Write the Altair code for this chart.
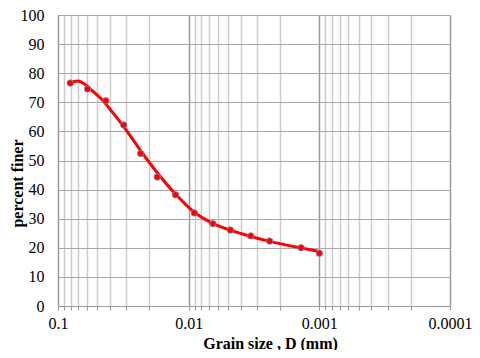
import altair as alt
import pandas as pd

# measured points
grain_size = [0.0806, 0.0594, 0.043, 0.0314, 0.0233, 0.0174, 0.0126, 0.00906,
              0.00652, 0.0048, 0.00335, 0.0024, 0.00138, 0.001]
pct_finer = [76.6, 74.6, 70.5, 62.2, 52.4, 44.3, 38.2, 32.0, 28.3, 26.1,
             24.1, 22.3, 20.0, 18.1]

# fitted smooth curve
curve_size = [0.0816, 0.0707, 0.0611, 0.0545, 0.0458, 0.0385, 0.0324, 0.0272,
              0.0229, 0.0187, 0.01247, 0.00906, 0.00648, 0.00467,
              0.00335, 0.0024, 0.00138, 0.001]
curve_pct = [76.5, 77.3, 75.9, 73.9, 70.8, 66.7, 62.4, 57.7, 52.9, 47.6,
             38.2, 32.2, 28.3, 25.9, 23.9, 22.2, 19.9, 18.7]

x_ticks = [m * d for d in [0.1, 0.01, 0.001] for m in [1, 0.9, 0.8, 0.7, 0.6, 0.5, 0.4, 0.3, 0.2]] + [0.0001]
y_ticks = list(range(0, 101, 10))

pts = pd.DataFrame({"D": grain_size, "P": pct_finer})
crv = pd.DataFrame({"D": curve_size, "P": curve_pct, "i": list(range(len(curve_size)))})

FONT = "Liberation Serif"
decade = "abs(log(datum.value)/LN10 - round(log(datum.value)/LN10)) < 0.000001"

xscale = alt.Scale(type="log", domain=[0.0001, 0.1], reverse=True, nice=False)
yscale = alt.Scale(domain=[0, 100], nice=False)

W = 392
xaxis = alt.Axis(
    values=x_ticks, labelExpr=f"({decade}) ? toString(datum.value) : ''",
    title="Grain size , D (mm)", grid=True,
    gridColor={"condition": {"test": decade, "value": "#9a9a9a"}, "value": "#cccccc"},
    gridWidth=1.5, tickColor="#9a9a9a", tickSize=4, domainColor="#9a9a9a",
    labelFont=FONT, labelFontSize=16, labelColor="black", labelPadding=5,
    labelFlush=False, labelOverlap=False,
    titleFont=FONT, titleFontSize=16, titleFontWeight="bold", titleColor="black",
    titleX=212, titleY=37, titleBaseline="middle", titleAlign="center",
)
yaxis = alt.Axis(
    values=y_ticks, title="percent finer", grid=True, gridColor="#a8a8a8", gridWidth=1.2,
    tickSize=0, domainColor="#9a9a9a", labelFont=FONT, labelFontSize=16,
    labelColor="black", labelPadding=14, labelOverlap=False, labelFlush=False,
    titleFont=FONT, titleFontSize=16, titleFontWeight="bold", titleColor="black",
    titleX=-41, titleY=168, titleBaseline="middle", titleAlign="center", titleAngle=-90,
)

X = alt.X("D:Q", scale=xscale, axis=xaxis)
Y = alt.Y("P:Q", scale=yscale, axis=yaxis)

line = alt.Chart(crv).mark_line(color="#ff0000", strokeWidth=3, interpolate="monotone").encode(
    x=X, y=Y, order="i:Q",
)
dots = alt.Chart(pts).mark_circle(size=42, color="#ff0000", opacity=1,
                                  stroke="#7a8fb0", strokeWidth=0.8).encode(
    x=X, y=Y,
)

chart = alt.layer(line, dots).properties(
    width=W, height=291, autosize="none",
    padding={"left": 50, "top": 7, "right": 22, "bottom": 44},
).configure_view(stroke=None).configure(background="white")

chart.save("out.html", embed_options={"renderer": "svg", "actions": False})
